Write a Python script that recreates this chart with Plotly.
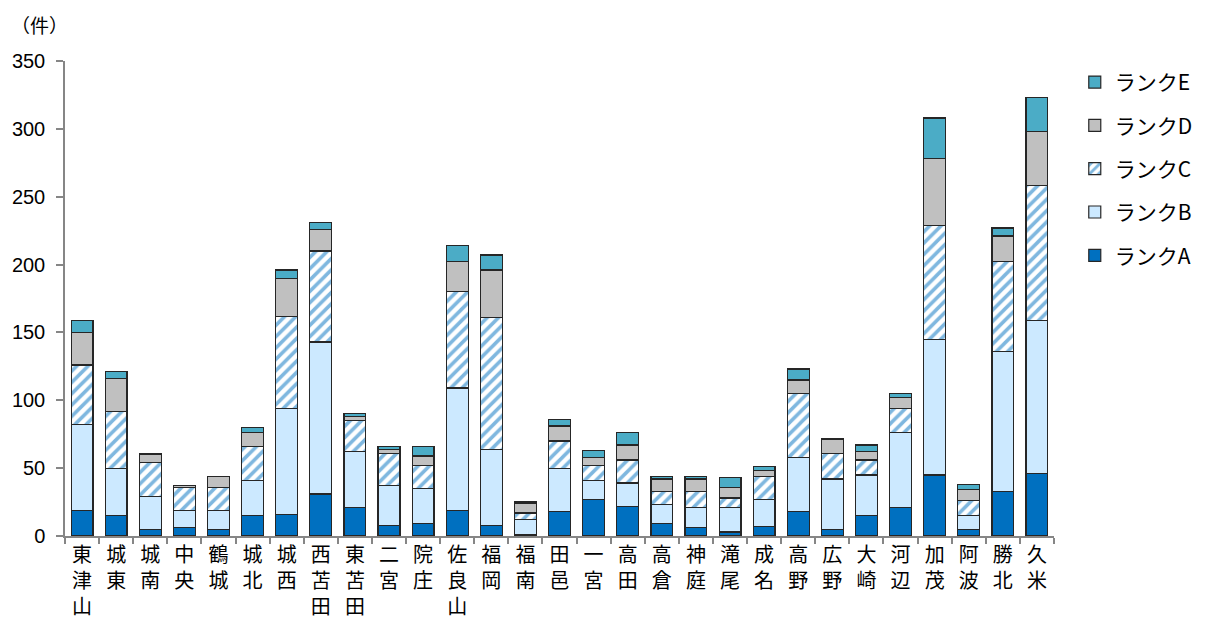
import plotly.graph_objects as go

categories = ["東津山", "城東", "城南", "中央", "鶴城", "城北", "城西", "西苫田", "東苫田", "二宮",
              "院庄", "佐良山", "福岡", "福南", "田邑", "一宮", "高田", "高倉", "神庭", "滝尾",
              "成名", "高野", "広野", "大崎", "河辺", "加茂", "阿波", "勝北", "久米"]
rank_a = [19, 15, 5, 6, 5, 15, 16, 31, 21, 8, 9, 19, 8, 1, 18, 27, 22, 9, 6, 3, 7, 18, 5, 15, 21, 45, 5, 33, 46]
rank_b = [63, 35, 24, 13, 14, 26, 78, 112, 41, 29, 26, 90, 56, 11, 32, 14, 17, 14, 15, 18, 20, 40, 37, 30, 55, 100, 10, 103, 113]
rank_c = [44, 42, 25, 17, 17, 25, 68, 67, 23, 24, 17, 71, 97, 5, 20, 11, 17, 10, 12, 7, 17, 47, 19, 11, 18, 84, 11, 66, 99]
rank_d = [24, 24, 6, 1, 8, 10, 28, 16, 3, 3, 7, 22, 35, 7, 11, 6, 11, 9, 9, 8, 4, 10, 10, 6, 8, 49, 8, 19, 40]
rank_e = [9, 5, 1, 0, 0, 4, 6, 5, 2, 2, 7, 12, 11, 1, 5, 5, 9, 2, 2, 7, 3, 8, 1, 5, 3, 30, 4, 6, 25]
series_names = ["ランクA", "ランクB", "ランクC", "ランクD", "ランクE"]
y_ticks = [0, 50, 100, 150, 200, 250, 300, 350]

labels = ["<br>".join(list(c)) for c in categories]

FONT = "Liberation Sans, Arial, Noto Sans CJK JP, sans-serif"
JFONT = "Noto Sans CJK JP, sans-serif"
outline = dict(color="#262626", width=1.2)

fig = go.Figure()
fig.add_bar(x=labels, y=rank_a, name=series_names[0], legendgroup="a", legendrank=5,
            marker=dict(color="#0070C0", line=outline))
fig.add_bar(x=labels, y=rank_b, name=series_names[1], legendgroup="b", legendrank=4,
            marker=dict(color="#CCE9FF", line=outline))
fig.add_bar(x=labels, y=rank_c, name=series_names[2], legendgroup="c", legendrank=3,
            marker=dict(color="white", line=outline,
                        pattern=dict(shape="/", fgcolor="#0070C0", bgcolor="white",
                                     size=8, solidity=0.45)))
fig.add_bar(x=labels, y=rank_d, name=series_names[3], legendgroup="d", legendrank=2,
            marker=dict(color="#C0C0C0", line=outline))
fig.add_bar(x=labels, y=rank_e, name=series_names[4], legendgroup="e", legendrank=1,
            marker=dict(color="#4BACC6", line=outline))

fig.update_layout(
    barmode="stack",
    bargap=0.36,
    width=1210, height=619,
    margin=dict(l=65, r=142, t=61, b=83, pad=0),
    plot_bgcolor="white", paper_bgcolor="white",
    font=dict(family=FONT, size=20, color="black"),
    showlegend=True,
    legend=dict(x=1.021, y=0.998, xanchor="left", yanchor="top",
                traceorder="grouped", tracegroupgap=13,
                font=dict(family=JFONT, size=21, color="black"),
                itemwidth=30, bgcolor="rgba(0,0,0,0)"),
    xaxis=dict(showline=True, linecolor="#868686", linewidth=1.5,
               ticks="outside", ticklen=6, tickcolor="#868686", tickwidth=1.5,
               tickson="boundaries", tickangle=0, automargin=False,
               tickfont=dict(family=JFONT, size=20, color="black"),
               showgrid=False),
    yaxis=dict(range=[0, 350], tickvals=y_ticks, showline=True, linecolor="#868686",
               linewidth=1.5, ticks="outside", ticklen=7, tickcolor="#868686", tickwidth=1.5,
               ticklabelstandoff=7, automargin=False,
               tickfont=dict(family=FONT, size=20, color="black"),
               showgrid=False, zeroline=False),
    annotations=[dict(text="（件）", x=(8 - 65) / 1003, y=(536 - 24) / 475,
                      xref="paper", yref="paper",
                      xanchor="left", yanchor="middle", showarrow=False,
                      font=dict(family=JFONT, size=19, color="black"))],
)

fig.write_html("out.html")
